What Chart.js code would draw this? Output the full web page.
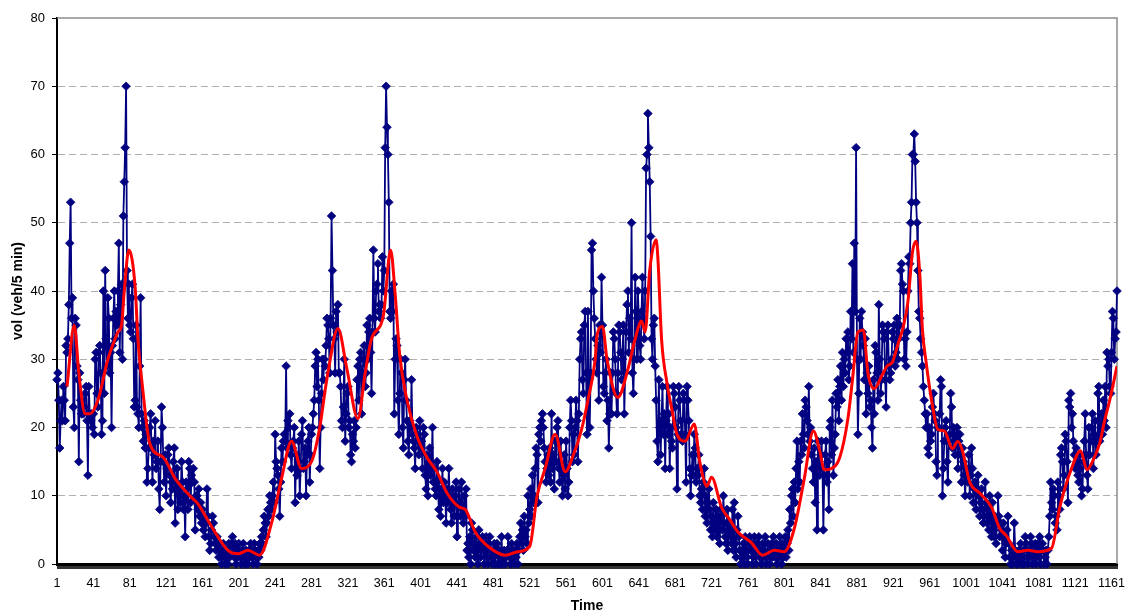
<!DOCTYPE html>
<html>
<head>
<meta charset="utf-8">
<script src="https://cdn.jsdelivr.net/npm/chart.js@4.4.1/dist/chart.umd.min.js"></script>
<style>
  html, body { margin: 0; padding: 0; background: #ffffff; }
  #wrap { width: 1129px; height: 613px; position: relative; }
</style>
</head>
<body>
<div id="wrap"><canvas id="chart"></canvas></div>
<script>
// 5-minute traffic volume, intervals 1..1167
const volume = [
  27,28,24,17,21,24,21,26,24,21,
  32,31,33,38,47,53,36,39,23,20,
  36,35,29,27,15,28,24,22,24,22,
  23,25,26,21,13,26,22,21,22,20,
  22,19,30,31,25,23,31,32,28,19,
  21,40,25,43,33,29,39,36,28,31,
  20,32,36,40,33,37,35,40,47,31,
  38,41,30,51,56,61,70,43,36,41,
  35,34,39,41,33,23,24,35,23,22,
  20,29,39,22,20,18,21,17,19,12,
  14,17,20,22,17,12,18,16,21,14,
  15,18,11,8,15,23,20,15,12,16,
  10,14,16,17,13,9,12,11,15,17,
  6,12,14,8,11,10,9,15,12,8,
  10,4,12,11,8,15,14,9,13,12,
  14,12,5,10,10,8,11,7,9,6,
  8,5,7,4,6,11,7,4,2,3,
  5,7,6,4,3,2,4,3,1,3,
  2,0,1,3,2,0,1,2,0,3,
  1,2,3,4,2,1,3,0,2,1,
  3,2,1,0,2,3,1,0,2,1,
  0,2,1,3,2,1,0,3,2,1,
  0,2,1,3,2,4,3,5,7,6,
  4,6,8,7,10,9,8,10,12,9,
  19,15,14,13,11,7,12,17,15,18,
  19,18,29,17,21,20,22,16,14,17,
  18,20,9,16,13,14,18,10,14,19,
  21,14,15,17,10,16,18,20,12,16,
  19,20,22,24,29,31,26,30,24,14,
  20,25,30,27,30,29,32,36,35,33,
  28,36,51,43,35,33,28,37,34,38,
  28,28,26,21,20,23,30,18,22,25,
  26,20,21,16,15,19,18,21,17,20,
  27,29,24,30,31,22,28,30,32,26,
  28,35,30,34,36,31,25,34,46,36,
  34,40,41,44,37,38,36,38,45,40,
  43,61,70,64,60,53,37,36,40,37,
  41,22,30,33,32,24,19,25,30,28,
  20,17,27,30,24,21,18,16,21,20,
  27,19,18,17,14,20,19,18,16,21,
  17,18,14,20,19,13,11,16,10,15,
  17,13,14,20,12,14,11,10,15,12,
  8,11,7,10,14,9,12,10,6,11,
  9,14,10,8,6,11,9,7,10,12,
  4,7,11,9,7,12,8,6,10,7,
  11,2,3,1,4,0,6,5,2,3,
  1,4,2,0,5,3,1,2,4,3,
  0,2,4,1,0,3,4,1,2,0,
  1,3,0,2,3,0,2,0,1,4,
  0,1,2,0,1,2,4,2,1,0,
  3,1,2,0,2,1,3,0,2,4,
  6,3,5,2,7,4,5,3,10,6,
  8,11,7,13,9,10,14,17,16,9,
  19,20,18,21,22,20,17,15,12,14,
  16,13,17,12,22,14,16,11,18,15,
  20,21,14,12,18,14,10,13,16,11,
  18,14,10,12,20,24,21,15,19,16,
  20,24,21,15,22,30,33,34,27,25,
  35,37,28,19,37,27,20,28,46,47,
  40,36,33,30,28,32,24,35,31,42,
  35,26,25,28,30,21,24,17,22,28,
  22,28,34,33,30,25,22,28,35,34,
  31,27,30,35,22,28,34,38,40,31,
  36,33,50,28,25,30,42,37,30,40,
  36,32,30,37,42,36,33,40,58,60,
  66,61,56,48,33,30,35,36,29,24,
  18,15,27,20,16,21,26,19,22,14,
  21,26,19,22,14,20,18,17,26,25,
  23,20,11,19,26,24,21,19,18,25,
  24,19,12,26,24,21,14,10,13,16,
  13,19,17,12,14,13,16,10,9,11,
  8,12,14,7,10,6,9,11,8,5,
  7,4,9,6,5,8,4,7,6,3,
  8,7,5,10,6,4,3,8,2,5,
  6,4,3,8,2,9,3,1,5,7,
  4,2,0,1,2,3,0,4,2,1,
  0,3,4,2,3,0,1,4,2,0,
  3,2,4,1,2,0,3,1,2,4,
  0,1,3,2,0,2,3,1,4,2,
  1,3,0,2,1,4,2,0,3,1,
  2,4,1,3,5,2,8,6,10,11,
  7,12,9,14,18,11,15,12,18,16,
  22,19,17,24,23,21,19,26,18,20,
  16,14,12,17,9,15,5,18,14,13,
  16,18,14,5,13,16,18,12,15,8,
  20,21,16,24,13,17,19,25,23,27,
  21,26,29,24,31,26,30,28,33,31,
  34,27,29,37,33,44,31,47,37,61,
  30,19,25,36,30,37,34,32,27,33,
  22,28,25,29,23,24,20,17,27,22,
  32,31,28,24,38,30,25,27,35,34,
  33,27,23,34,35,29,27,28,30,34,
  33,35,29,31,36,30,33,35,43,44,
  41,40,30,33,29,34,40,45,44,50,
  53,60,60,63,59,53,50,43,37,36,
  33,31,29,26,24,22,20,22,17,16,
  20,18,19,23,25,22,21,15,13,20,
  20,22,27,26,10,14,18,20,21,15,
  12,18,19,25,23,17,20,19,16,18,
  20,14,18,19,16,12,17,15,13,10,
  14,13,12,16,10,13,17,14,9,11,
  12,8,11,13,10,7,9,11,8,6,
  7,12,9,6,8,5,10,7,4,9,
  5,4,7,3,6,10,7,4,6,5,
  2,6,4,1,3,5,7,3,1,0,
  2,0,1,6,2,0,1,0,2,1,
  3,0,1,2,0,4,3,1,0,2,
  1,4,3,0,2,1,3,0,2,3,
  1,4,0,2,3,2,0,1,2,0,
  2,4,7,12,9,8,11,10,6,7,
  5,12,10,8,16,17,15,11,13,19,
  18,15,9,24,23,25,20,22,18,16,
  14,17,15,13,12,16,14,10,11,15,
  18,22,16,13,11,20,16,18,20,22,
  14,19,21,16,18,25,26,18,20,22,
  19,24,21,26,20,31,29,30,26,25,
  31,37,36,30,33,34,40
];

// moving-average trend: interval numbers and values
const trendIdx = [12,20,25,32,37,46,57,65,68,72,75,80,87,90,95,103,118,131,147,156,171,189,200,211,224,237,248,259,270,281,290,296,299,310,320,332,340,347,360,368,373,378,386,397,408,419,430,444,450,461,475,494,508,521,529,538,549,560,568,578,585,593,595,601,606,618,628,637,644,648,653,660,662,666,672,677,683,692,702,708,716,721,732,741,750,765,777,790,801,812,823,833,840,845,853,862,871,876,882,888,893,900,908,914,920,926,931,937,942,946,950,953,957,963,970,977,986,992,997,1005,1016,1029,1038,1045,1058,1069,1080,1095,1104,1117,1127,1134,1140,1148,1153,1159,1167];
const trendVal = [26,35,28,22,22,24,30,33,34,35,40,46,40.5,33,26,17.7,15.6,12.5,10,8.8,5.5,2,1.5,2,1.3,6,12.5,18,14,15,20,25.5,28,34.5,28.5,21.3,28,33,36.4,46,39.5,30.6,24,18.7,15.6,13.5,10.4,8.3,8,4.7,2.6,1.3,1.8,2.6,9.9,14,19,13.5,15.6,19.7,24,30,33.5,34.8,30,24.4,28,33,35.6,34,43,47.5,44.7,33,26.5,22.9,19,18,20.5,15,11.4,12.7,8.3,6.5,4.7,3.1,1.3,2,1.8,5.2,12.5,19.5,16.6,13.8,14,15.6,21.3,27,34,34.3,28,25.7,27.5,29,29.6,32.2,34.3,38.4,45.7,47.3,42.6,34.3,29.6,24,19.7,19.5,16.9,18,16.6,12,10.4,8.3,5.2,4.2,1.8,2,1.8,2.3,8.3,14,16.6,13.8,15,17.7,20.8,24,29];

// axis settings
const yTicks = [0, 10, 20, 30, 40, 50, 60, 70, 80];
const xLabelEvery = 40;
const yTitle = 'vol (veh/5 min)';
const xTitle = 'Time';

const FONT = "'Liberation Sans', Arial, sans-serif";

const volumePoints = volume.map((v, i) => ({ x: i + 1, y: v }));
const trendPoints = trendIdx.map((x, i) => ({ x: x, y: trendVal[i] }));

// grey frame on the top and right sides of the plot area
const plotFrame = {
  id: 'plotFrame',
  beforeDatasetsDraw(chart) {
    const { ctx, chartArea: a } = chart;
    ctx.save();
    ctx.strokeStyle = '#8c8c8c';
    ctx.lineWidth = 1.5;
    ctx.beginPath();
    ctx.moveTo(a.left, a.top);
    ctx.lineTo(a.right, a.top);
    ctx.lineTo(a.right, a.bottom);
    ctx.stroke();
    ctx.restore();
  }
};

new Chart(document.getElementById('chart'), {
  type: 'line',
  data: {
    datasets: [
      {
        label: 'trend',
        data: trendPoints,
        borderColor: '#ff0000',
        borderWidth: 3,
        pointRadius: 0,
        cubicInterpolationMode: 'monotone',
        fill: false,
        order: 0
      },
      {
        label: 'volume',
        data: volumePoints,
        borderColor: '#000080',
        borderWidth: 1.8,
        pointStyle: 'rectRot',
        pointRadius: 4.3,
        pointBackgroundColor: '#000080',
        pointBorderColor: '#000080',
        pointBorderWidth: 0.8,
        tension: 0,
        fill: false,
        clip: false,
        order: 1
      }
    ]
  },
  options: {
    responsive: true,
    maintainAspectRatio: false,
    devicePixelRatio: 1,
    animation: false,
    events: [],
    layout: { padding: { top: 18, right: 12, left: 0, bottom: 0 } },
    plugins: {
      legend: { display: false },
      tooltip: { enabled: false }
    },
    scales: {
      x: {
        type: 'linear',
        min: 1,
        max: volume.length,
        afterBuildTicks(scale) {
          scale.ticks = volume.map((_, i) => ({ value: i + 1 }));
        },
        afterFit(scale) { scale.height = 49; },
        ticks: {
          autoSkip: false,
          maxRotation: 0,
          minRotation: 0,
          padding: 7,
          color: '#000',
          font: { family: FONT, size: 12.5 },
          callback: (v) => ((v - 1) % xLabelEvery === 0 ? String(v) : '')
        },
        grid: {
          drawOnChartArea: false,
          drawTicks: true,
          tickLength: 5,
          tickWidth: 1,
          tickColor: '#333'
        },
        border: { display: true, color: '#000', width: 3 },
        title: {
          display: true,
          text: xTitle,
          color: '#000',
          font: { family: FONT, size: 14, weight: 'bold', lineHeight: 1 },
          padding: { top: 0, bottom: 0 }
        }
      },
      y: {
        min: 0,
        max: 80,
        afterBuildTicks(scale) {
          scale.ticks = yTicks.map(v => ({ value: v }));
        },
        afterFit(scale) { scale.width = 57; },
        ticks: {
          padding: 7,
          color: '#000',
          font: { family: FONT, size: 13 }
        },
        grid: {
          color: (c) => (c.tick && (c.tick.value === 0 || c.tick.value === 80)) ? 'rgba(0,0,0,0)' : '#b0b0b0',
          lineWidth: 1,
          drawTicks: true,
          tickLength: 5,
          tickWidth: 1,
          tickColor: '#000',
          tickBorderDash: []
        },
        border: { display: true, color: '#000', width: 2, dash: [7, 4] },
        title: {
          display: true,
          text: yTitle,
          color: '#000',
          font: { family: FONT, size: 14, weight: 'bold', lineHeight: 1.2 },
          padding: { top: 10, bottom: 0 }
        }
      }
    }
  },
  plugins: [plotFrame]
});
</script>
</body>
</html>
